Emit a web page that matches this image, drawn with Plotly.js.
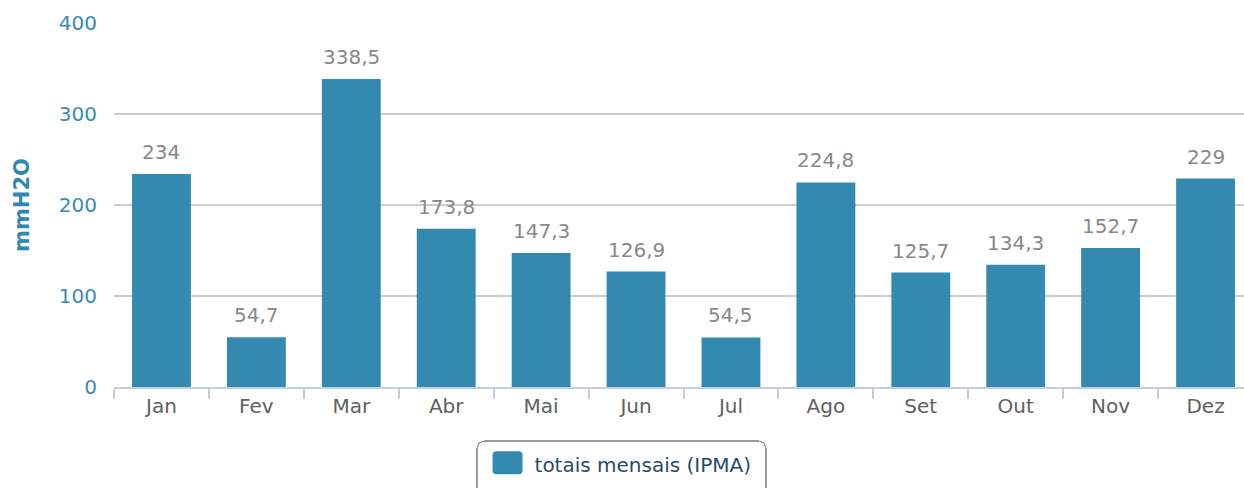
<!DOCTYPE html>
<html>
<head>
<meta charset="utf-8">
<script src="https://cdn.plot.ly/plotly-3.0.1.min.js"></script>
<style>html,body{margin:0;padding:0;background:#fff;overflow:hidden;width:1244px;height:488px;}#chart{width:1253px;height:488px;}</style>
</head>
<body>
<div id="chart"></div>
<script>
const months = ["Jan","Fev","Mar","Abr","Mai","Jun","Jul","Ago","Set","Out","Nov","Dez"];
const totals = [234, 54.7, 338.5, 173.8, 147.3, 126.9, 54.5, 224.8, 125.7, 134.3, 152.7, 229];
const seriesName = "totais mensais (IPMA)";
const yTicks = [0, 100, 200, 300, 400];

const labels = totals.map(v => String(v).replace('.', ','));
const FONT = '"DejaVu Sans", "Liberation Sans", sans-serif';

const trace = {
  type: 'bar',
  x: months,
  y: totals,
  name: seriesName,
  marker: {color: '#3489b0', line: {width: 0}},
  width: 0.62,
  hoverinfo: 'x+y'
};

const annotations = months.map((m, i) => ({
  x: m, y: totals[i], xref: 'x', yref: 'y',
  text: labels[i], showarrow: false,
  yanchor: 'bottom', xanchor: 'center', yshift: 8,
  font: {family: FONT, size: 20, color: '#888888'}
}));

const layout = {
  width: 1253, height: 488,
  margin: {l: 114, r: 0, t: 23, b: 101, pad: 0},
  paper_bgcolor: '#ffffff', plot_bgcolor: '#ffffff',
  font: {family: FONT, size: 20, color: '#666666'},
  showlegend: true,
  legend: {
    orientation: 'h', x: 0.4456, xanchor: 'center', y: -0.148, yanchor: 'top',
    bordercolor: '#999999', borderwidth: 1.5,
    font: {family: FONT, size: 20, color: '#274b6d'},
    itemwidth: 30
  },
  annotations: annotations,
  xaxis: {
    type: 'category',
    tickson: 'boundaries',
    ticks: 'outside', ticklen: 10, tickwidth: 2, tickcolor: '#c0d0e0',
    showline: true, linecolor: '#c0d0e0', linewidth: 2,
    showgrid: false, zeroline: false,
    tickfont: {family: FONT, size: 20, color: '#606060'},
    fixedrange: true
  },
  yaxis: {
    range: [0, 400],
    tickvals: yTicks,
    ticktext: yTicks.map(String),
    showgrid: true, gridcolor: '#cccccc', gridwidth: 2,
    zeroline: false, showline: false, ticks: '',
    ticklabelstandoff: 16,
    tickfont: {family: FONT, size: 20, color: '#3a8ab4'},
    title: {text: 'mmH2O', font: {family: FONT, size: 21, color: '#3189b0', weight: 'bold'}, standoff: 23},
    fixedrange: true
  },
  bargap: 0.38
};

Plotly.newPlot('chart', [trace], layout, {displayModeBar: false, staticPlot: true}).then(gd => {
  // enlarge legend swatch and restyle the legend box like the reference
  gd.querySelectorAll('.legend .legendpoints path').forEach(p => {
    p.setAttribute('d', 'M-14,-10.5H8A4,4 0 0 1 12,-6.5V8.5A4,4 0 0 1 8,12.5H-14A4,4 0 0 1 -18,8.5V-6.5A4,4 0 0 1 -14,-10.5Z');
  });
  gd.querySelectorAll('.legend text.legendtext').forEach(t => {
    const x = parseFloat(t.getAttribute('x')) || 0;
    const y = parseFloat(t.getAttribute('y')) || 0;
    t.setAttribute('x', x + 4);
    t.setAttribute('y', y + 2);
  });
  gd.querySelectorAll('.legend rect.bg').forEach(r => {
    const box = r.getBoundingClientRect();
    const x0 = parseFloat(r.getAttribute('x')) || 0;
    const y0 = parseFloat(r.getAttribute('y')) || 0;
    r.setAttribute('x', x0 + (477 - box.left));
    r.setAttribute('width', 289);
    r.setAttribute('y', y0 + (441 - box.top));
    r.setAttribute('height', 70);
    r.setAttribute('rx', 8); r.setAttribute('ry', 8);
  });
});
</script>
</body>
</html>
